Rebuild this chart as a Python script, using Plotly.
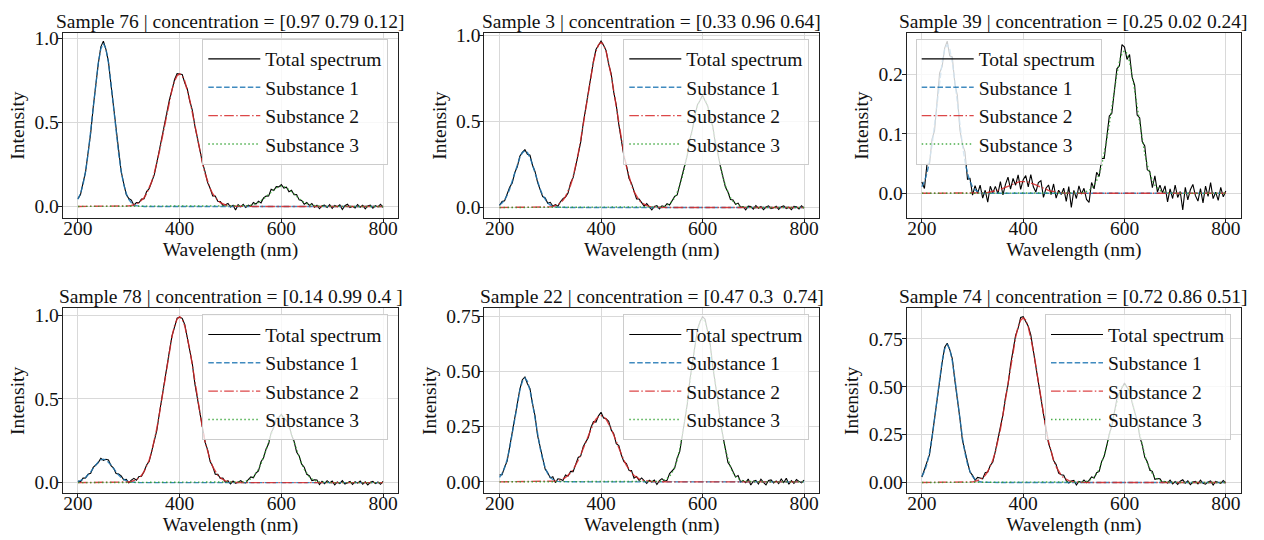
import plotly.graph_objects as go

# ---------------- data ----------------
WAVELENGTH = list(range(200, 805, 5))  # nm, 5 nm grid (121 points)

# pure-component spectra (unit concentration), rows = 10 points (200-245, 250-295, ...)
SUB1_PURE = [
    0.044, 0.080, 0.135, 0.216, 0.325, 0.458, 0.607, 0.755, 0.882, 0.969,
    1.000, 0.969, 0.882, 0.755, 0.607, 0.458, 0.325, 0.216, 0.135, 0.080,
    0.044, 0.023, 0.011, 0.005, 0.002, 0.001, 0, 0, 0, 0,
    0, 0, 0, 0, 0, 0, 0, 0, 0, 0,
    0, 0, 0, 0, 0, 0, 0, 0, 0, 0,
    0, 0, 0, 0, 0, 0, 0, 0, 0, 0,
    0, 0, 0, 0, 0, 0, 0, 0, 0, 0,
    0, 0, 0, 0, 0, 0, 0, 0, 0, 0,
    0, 0, 0, 0, 0, 0, 0, 0, 0, 0,
    0, 0, 0, 0, 0, 0, 0, 0, 0, 0,
    0, 0, 0, 0, 0, 0, 0, 0, 0, 0,
    0, 0, 0, 0, 0, 0, 0, 0, 0, 0,
    0,
]
SUB2_PURE = [
    0, 0, 0, 0, 0, 0, 0, 0, 0, 0,
    0, 0, 0, 0, 0, 0, 0, 0.001, 0.001, 0.002,
    0.004, 0.007, 0.011, 0.018, 0.029, 0.044, 0.066, 0.096, 0.135, 0.186,
    0.249, 0.325, 0.411, 0.506, 0.607, 0.707, 0.801, 0.882, 0.946, 0.986,
    1.000, 0.986, 0.946, 0.882, 0.801, 0.707, 0.607, 0.506, 0.411, 0.325,
    0.249, 0.186, 0.135, 0.096, 0.066, 0.044, 0.029, 0.018, 0.011, 0.007,
    0.004, 0.002, 0.001, 0.001, 0, 0, 0, 0, 0, 0,
    0, 0, 0, 0, 0, 0, 0, 0, 0, 0,
    0, 0, 0, 0, 0, 0, 0, 0, 0, 0,
    0, 0, 0, 0, 0, 0, 0, 0, 0, 0,
    0, 0, 0, 0, 0, 0, 0, 0, 0, 0,
    0, 0, 0, 0, 0, 0, 0, 0, 0, 0,
    0,
]
SUB3_PURE = [
    0, 0, 0, 0, 0, 0, 0, 0, 0, 0,
    0, 0, 0, 0, 0, 0, 0, 0, 0, 0,
    0, 0, 0, 0, 0, 0, 0, 0, 0, 0,
    0, 0, 0, 0, 0, 0, 0, 0, 0, 0,
    0, 0, 0, 0, 0, 0, 0, 0, 0, 0,
    0, 0, 0, 0, 0, 0, 0, 0, 0, 0,
    0, 0.001, 0.002, 0.003, 0.006, 0.011, 0.020, 0.034, 0.056, 0.089,
    0.135, 0.198, 0.278, 0.375, 0.487, 0.607, 0.726, 0.835, 0.923, 0.980,
    1.000, 0.980, 0.923, 0.835, 0.726, 0.607, 0.487, 0.375, 0.278, 0.198,
    0.135, 0.089, 0.056, 0.034, 0.020, 0.011, 0.006, 0.003, 0.002, 0.001,
    0, 0, 0, 0, 0, 0, 0, 0, 0, 0,
    0, 0, 0, 0, 0, 0, 0, 0, 0, 0,
    0,
]

SAMPLE_IDS = [76, 3, 39, 78, 22, 74]
CONCENTRATIONS = [
    [0.97, 0.79, 0.12],
    [0.33, 0.96, 0.64],
    [0.25, 0.02, 0.24],
    [0.14, 0.99, 0.40],
    [0.47, 0.30, 0.74],
    [0.72, 0.86, 0.51],
]
TITLES = [
    "Sample 76 | concentration = [0.97 0.79 0.12]",
    "Sample 3 | concentration = [0.33 0.96 0.64]",
    "Sample 39 | concentration = [0.25 0.02 0.24]",
    "Sample 78 | concentration = [0.14 0.99 0.4 ]",
    "Sample 22 | concentration = [0.47 0.3\u00a0 0.74]",
    "Sample 74 | concentration = [0.72 0.86 0.51]",
]

# measurement noise on the total spectrum (in 1e-3 intensity units)
NOISE_76 = [
    4, -7, 9, -3, 6, -10, 2, 8, -5, 11,
    15, -4, 7, -9, 3, -6, 12, -2, 5, -8,
    1, 10, -12, 4, -3, 8, -7, 13, -1, 6,
    -9, 2, 11, -6, 7, -13, 5, -2, 9, 12,
    -3, 8, -10, 4, -6, 14, -1, 7, -11, 3,
    9, -5, 2, -14, 10, -4, 6, -8, 1, 12,
    -7, 5, -22, 9, -3, 11, -9, 4, -6, 13,
    -2, 8, -12, 6, 3, -10, 15, -5, 7, -1,
    10, -8, 4, -13, 9, -3, 12, -6, 2, -11,
    7, -4, 11, -9, 5, -15, 3, 8, -7, 10,
    -12, 6, -2, 9, -18, 4, 13, -6, 1, -9,
    11, -5, 7, -14, 3, 8, -10, 5, -3, 12,
    -6,
]
NOISE_3 = [
    -2, 9, -6, 4, 11, -8, 3, -12, 7, 1,
    6, -10, 13, -3, 8, -5, 2, -9, 10, -4,
    12, -7, 3, -11, 5, 9, -2, -8, 14, -5,
    1, 7, -13, 6, -4, 10, -9, 3, 11, -6,
    8, -2, 5, -12, 9, -7, 13, -3, 4, -10,
    6, -8, 11, -1, -14, 7, 2, -9, 12, -5,
    -18, 4, 9, -11, 6, -3, 10, -7, 1, 8,
    -13, 5, -2, 12, -6, 9, -10, 3, 7, -4,
    14, -8, 2, -5, 11, -12, 6, -1, 9, -7,
    4, -10, 8, -3, 13, -6, 1, -15, 7, 5,
    -9, 11, -4, 6, -12, 3, 10, -7, -2, 8,
    -11, 5, 9, -6, 2, -13, 7, 4, -8, 10,
    -3,
]
NOISE_39 = [
    8, -12, 15, -5, 10, -9, 3, 14, -7, 2,
    6, -11, 9, -4, 13, -8, 1, 16, -10, 5,
    -14, 7, -3, 12, -9, 4, -16, 10, -2, 8,
    -6, 13, -11, 5, 15, -7, 9, -4, 12, -13,
    3, 10, -8, 14, -5, -12, 6, 11, -15, 2,
    9, -6, 13, -10, 4, -3, 8, -14, 11, -24,
    5, -9, 12, -2, 7, -13, -20, 10, -6, 14,
    -4, 11, -8, 6, 13, -11, 2, 9, -7, 15,
    6, -10, 12, -5, 8, -14, 10, -3, 13, -8,
    4, -12, 16, -6, 9, -2, 11, -15, 7, -9,
    14, -7, 3, -28, 10, -11, 6, 15, -4, -13,
    8, -16, 12, -5, 18, -9, 2, -12, 10, -6,
    4,
]
NOISE_78 = [
    3, -6, 8, -2, 5, -9, 7, 1, -4, 10,
    -7, 4, 12, -5, 2, -10, 6, 9, -3, 7,
    -11, 5, 13, -4, 8, -6, 1, 10, -8, 3,
    6, -12, 4, 9, -3, 11, -7, 2, -9, 5,
    -3, 4, 7, -10, 3, 8, -13, 6, -1, 9,
    -5, 11, -8, 2, -15, 6, -3, 10, -9, 4,
    -12, 7, -6, 1, 9, -4, -10, 5, 12, -7,
    3, -9, 14, -2, 6, -11, 8, -5, 10, -3,
    7, -8, 2, 11, -6, 4, -12, 9, -1, 13,
    -4, 6, -10, 3, 8, -16, 5, -7, 11, -2,
    9, -13, 4, -5, 12, -8, 1, 7, -11, 6,
    -3, 10, -9, 5, -14, 2, 8, -6, 4, -10,
    7,
]
NOISE_22 = [
    10, -5, 3, -8, 6, 12, -3, -9, 4, 7,
    5, -11, 8, -2, 13, -6, 1, 9, -7, 3,
    -4, 10, -12, 6, 2, -8, 11, -3, 7, -10,
    4, 13, -6, 9, -1, -11, 5, 8, -13, 3,
    15, -7, 2, 10, -5, 6, -9, 12, -2, -6,
    8, -3, 11, -12, 4, -7, 9, 1, -10, 5,
    -2, 7, -14, 3, 10, -5, -8, 12, 6, -4,
    9, -10, 2, 5, -7, 13, -3, -11, 8, 1,
    8, 11, -4, 7, -13, 2, 9, -8, 4, 10,
    -12, 5, 8, -3, 14, -9, 1, -6, 11, -15,
    3, 7, -10, 12, -2, -14, 6, 9, -5, 4,
    -8, 13, -3, 16, -11, 5, -7, 10, 2, -4,
    8,
]
NOISE_74 = [
    -3, 8, 5, -10, 2, 11, -6, 4, -8, 9,
    7, -4, 12, -9, 3, 6, -13, 1, 10, -5,
    2, -11, 9, 4, -7, 13, -2, 6, -9, 3,
    11, -6, 1, 8, -12, 5, -3, 10, -7, 14,
    6, -9, 3, 12, -5, -1, 9, -14, 4, 7,
    -10, 5, -2, 11, -8, 3, 13, -6, -12, 2,
    8, -15, 4, -3, 10, -7, 1, 12, -5, 6,
    -11, 9, -4, 2, 7, -13, 5, 11, -2, -8,
    10, -3, 6, -9, 1, 12, -7, 4, -10, 8,
    -5, 13, -12, 3, 9, -6, 2, -4, 11, -8,
    5, -10, 7, 14, -3, 9, -11, 2, 6, -7,
    12, -4, -9, 3, 8, -13, 6, 1, -5, 10,
    -2,
]
NOISES = [NOISE_76, NOISE_3, NOISE_39, NOISE_78, NOISE_22, NOISE_74]

X_TICKS = [200, 400, 600, 800]
Y_TICKS = [
    [0.0, 0.5, 1.0], [0.0, 0.5, 1.0], [0.0, 0.1, 0.2],
    [0.0, 0.5, 1.0], [0.0, 0.25, 0.5, 0.75], [0.0, 0.25, 0.5, 0.75],
]
Y_TICK_LABELS = [
    ["0.0", "0.5", "1.0"], ["0.0", "0.5", "1.0"], ["0.0", "0.1", "0.2"],
    ["0.0", "0.5", "1.0"], ["0.00", "0.25", "0.50", "0.75"], ["0.00", "0.25", "0.50", "0.75"],
]
SERIES_NAMES = ["Total spectrum", "Substance 1", "Substance 2", "Substance 3"]

# ---------------- styling ----------------
W, H = 1264, 540
FONT = "Liberation Serif"
FS = 19.5
TXT = "#111111"
# frame positions in page pixels
COL_PX = [(62.7, 398.3), (484.3, 819.3), (906.7, 1241.0)]
ROW_PX = [(32.7, 218.4), (308.3, 493.4)]
LEGEND_LEFT = [False, False, True, False, False, False]
GRID = "#d9d9d9"
FRAME = "#222222"
SUB_STYLES = [
    dict(color="rgba(31,119,180,0.85)", dash="5.5px,2.4px", width=1.4),
    dict(color="rgba(214,39,40,0.85)", dash="9.6px,2.4px,1.5px,2.4px", width=1.4),
    dict(color="rgba(44,160,44,0.85)", dash="1.5px,2.5px", width=1.4),
]

fig = go.Figure()
layout = dict(
    width=W, height=H, margin=dict(l=0, r=0, t=0, b=0, autoexpand=False),
    paper_bgcolor="white", plot_bgcolor="white",
    font=dict(family=FONT, size=FS, color=TXT),
    showlegend=True, annotations=[],
)

for k in range(6):
    r, c = divmod(k, 3)
    sfx = "" if k == 0 else str(k + 1)
    conc = CONCENTRATIONS[k]
    subs = [
        [conc[0] * v for v in SUB1_PURE],
        [conc[1] * v for v in SUB2_PURE],
        [conc[2] * v for v in SUB3_PURE],
    ]
    total = [subs[0][i] + subs[1][i] + subs[2][i] + NOISES[k][i] / 1000.0
             for i in range(len(WAVELENGTH))]
    leg = "legend" if k == 0 else f"legend{k + 1}"

    fig.add_trace(go.Scatter(
        x=WAVELENGTH, y=total, mode="lines", name=SERIES_NAMES[0],
        line=dict(color="black", width=1.1),
        xaxis="x" + sfx, yaxis="y" + sfx, legend=leg, hoverinfo="skip"))
    for j in range(3):
        fig.add_trace(go.Scatter(
            x=WAVELENGTH, y=subs[j], mode="lines", name=SERIES_NAMES[j + 1],
            line=SUB_STYLES[j],
            xaxis="x" + sfx, yaxis="y" + sfx, legend=leg, hoverinfo="skip"))

    lo = min(min(total), 0.0)
    hi = max(max(total), max(max(s) for s in subs))
    pad = 0.05 * (hi - lo)

    x0, x1 = COL_PX[c]
    y0, y1 = ROW_PX[r]
    common = dict(showgrid=True, gridcolor=GRID, gridwidth=1, zeroline=False,
                  showline=True, mirror=True, linecolor=FRAME, linewidth=1,
                  ticks="outside", ticklen=4, tickcolor=FRAME, tickwidth=1,
                  tickfont=dict(family=FONT, size=FS, color=TXT))
    layout["xaxis" + sfx] = dict(
        domain=[x0 / W, x1 / W], range=[170, 830], tickvals=X_TICKS,
        anchor="y" + sfx, ticklabelstandoff=-12,
        title=dict(text="Wavelength (nm)", standoff=2,
                   font=dict(family=FONT, size=FS, color=TXT)),
        **common)
    layout["yaxis" + sfx] = dict(
        domain=[1 - y1 / H, 1 - y0 / H], range=[lo - pad, hi + pad],
        tickvals=Y_TICKS[k], ticktext=Y_TICK_LABELS[k],
        anchor="x" + sfx, ticklabelstandoff=-5,
        title=dict(text="Intensity", standoff=4,
                   font=dict(family=FONT, size=FS, color=TXT)),
        **common)

    if LEGEND_LEFT[k]:
        lx, lxa = (x0 + 9) / W, "left"
    else:
        lx, lxa = (x1 - 10) / W, "right"
    layout[leg] = dict(
        x=lx, xanchor=lxa, y=1 - (y0 + 6) / H, yanchor="top",
        bgcolor="rgba(255,255,255,0.8)", bordercolor="#cccccc", borderwidth=1,
        font=dict(family=FONT, size=FS, color=TXT),
        tracegroupgap=0, itemwidth=52)

    layout["annotations"].append(dict(
        text=TITLES[k], xref="paper", yref="paper",
        x=(x0 + x1) / 2 / W, y=1 - y0 / H, xanchor="center", yanchor="bottom",
        yshift=-1, showarrow=False,
        font=dict(family=FONT, size=FS, color=TXT)))

fig.update_layout(**layout)
# the page's default 8px body margin would shift the 1264x540 figure; remove it
fig.write_html("out.html", config={"displayModeBar": False},
               post_script="document.body.style.margin='0px';")
